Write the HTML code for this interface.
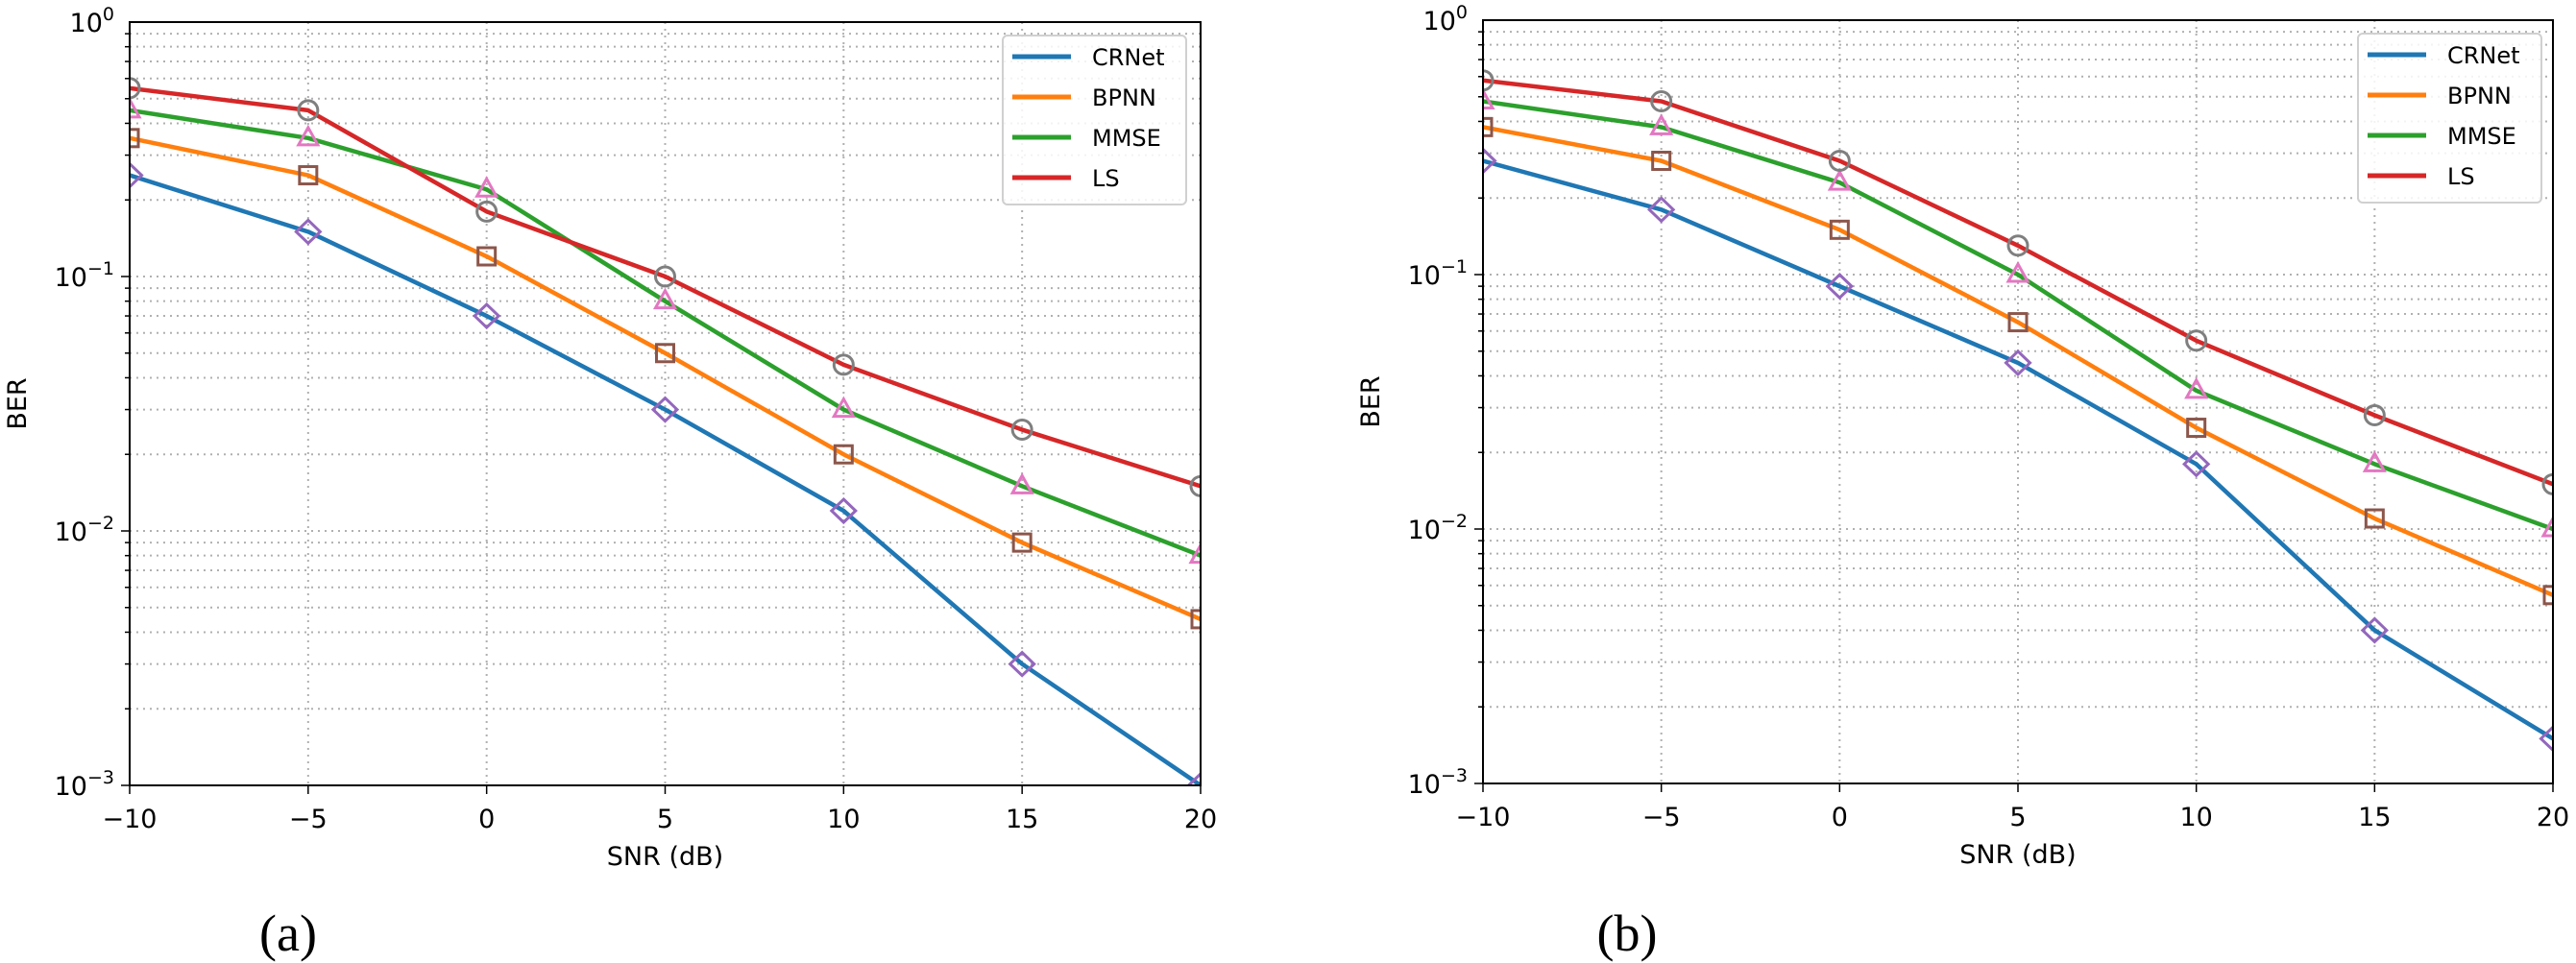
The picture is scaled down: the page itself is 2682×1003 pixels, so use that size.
<!DOCTYPE html>
<html><head><meta charset="utf-8"><style>
html,body{margin:0;padding:0;background:#fff;}
svg{display:block;}
text{font-family:"DejaVu Sans","Liberation Sans",sans-serif;fill:#000;}
</style></head><body>
<svg id="fig" width="2682" height="1003" viewBox="0 0 2682 1003" xmlns="http://www.w3.org/2000/svg"></svg>
<script>
const snr = [-10, -5, 0, 5, 10, 15, 20];
const seriesNames = ["CRNet", "BPNN", "MMSE", "LS"];
const xTicks = [-10, -5, 0, 5, 10, 15, 20];
const yTickExps = [0, -1, -2, -3];
const aCRNet = [0.25, 0.15, 0.07, 0.03, 0.012, 0.003, 0.001];
const aBPNN  = [0.35, 0.25, 0.12, 0.05, 0.02, 0.009, 0.0045];
const aMMSE  = [0.45, 0.35, 0.22, 0.08, 0.03, 0.015, 0.008];
const aLS    = [0.55, 0.45, 0.18, 0.10, 0.045, 0.025, 0.015];
const bCRNet = [0.28, 0.18, 0.09, 0.045, 0.018, 0.004, 0.0015];
const bBPNN  = [0.38, 0.28, 0.15, 0.065, 0.025, 0.011, 0.0055];
const bMMSE  = [0.48, 0.38, 0.23, 0.10, 0.035, 0.018, 0.010];
const bLS    = [0.58, 0.48, 0.28, 0.13, 0.055, 0.028, 0.015];

const NS = "http://www.w3.org/2000/svg";
const svg = document.getElementById("fig");
const colors = ["#1f77b4", "#ff7f0e", "#2ca02c", "#d62728"];
const mcolors = ["#9467bd", "#8c564b", "#e377c2", "#7f7f7f"];
const markers = ["diamond", "square", "triangle", "circle"];
function mk(tag, attrs, parent) {
  const e = document.createElementNS(NS, tag);
  for (const k in attrs) e.setAttribute(k, attrs[k]);
  (parent || svg).appendChild(e);
  return e;
}

function drawPanel(id, L, R, T, B, data, label, labelX, legX, legY) {
  const g = mk("g", {});
  
  
  const xs = v => L + (v - (-10)) / 30 * (R - L);
  const ys = v => T + (0 - Math.log10(v)) / 3 * (B - T);
  for (let e = 0; e > -3; e--) {
    for (let m = 1; m <= 9; m++) {
      const v = m * Math.pow(10, e - 1);
      const y = ys(v);
      const ln = mk("line", {x1: L, x2: R, y1: y, y2: y, stroke: "#b0b0b0", "stroke-width": 2, "stroke-dasharray": "2,5"}, g);
      
      
      const tk = mk("line", {x1: L - (m === 1 ? 9 : 5), x2: L, y1: y, y2: y, stroke: "#000", "stroke-width": 1.5}, g);
      
      
    }
  }
  xTicks.forEach(t => {
    const x = xs(t);
    const ln = mk("line", {x1: x, x2: x, y1: T, y2: B, stroke: "#b0b0b0", "stroke-width": 2, "stroke-dasharray": "2,5"}, g);
    
    
    const tk = mk("line", {x1: x, x2: x, y1: B, y2: B + 9, stroke: "#000", "stroke-width": 1.5}, g);
    
    
    const tx = mk("text", {x: x, y: B + 44, "text-anchor": "middle", "font-size": 27}, g);
    tx.textContent = t < 0 ? "\u2212" + Math.abs(t) : String(t);
    
    
  });
  yTickExps.forEach(e => {
    const y = ys(Math.pow(10, e));
    const tx = mk("text", {x: L - 16, y: y + 10, "text-anchor": "end", "font-size": 27}, g);
    
    
    tx.innerHTML = '10<tspan dy="-12" font-size="19">' + (e < 0 ? "\u2212" + Math.abs(e) : e) + '</tspan>';
  });
  const cp = mk("clipPath", {id: "clip" + id}, g);
  mk("rect", {x: L, y: T, width: R - L, height: B - T}, cp);
  const plot = mk("g", {"clip-path": "url(#clip" + id + ")"}, g);
  data.forEach((vals, si) => {
    const pts = vals.map((v, i) => xs(snr[i]) + "," + ys(v)).join(" ");
    const pl = mk("polyline", {points: pts, fill: "none", stroke: colors[si], "stroke-width": 4.5, "stroke-linejoin": "round"}, plot);
    
    
  });
  data.forEach((vals, si) => {
    vals.forEach((v, i) => {
      const x = xs(snr[i]), y = ys(v);
      let m;
      const st = {fill: "none", stroke: mcolors[si], "stroke-width": 3};
      if (markers[si] === "circle") m = mk("circle", Object.assign({cx: x, cy: y, r: 10}, st), plot);
      else if (markers[si] === "square") m = mk("rect", Object.assign({x: x - 9, y: y - 9, width: 18, height: 18}, st), plot);
      else if (markers[si] === "triangle") m = mk("polygon", Object.assign({points: `${x},${y-11} ${x+10},${y+7} ${x-10},${y+7}`}, st), plot);
      else m = mk("polygon", Object.assign({points: `${x},${y-12} ${x+12.5},${y} ${x},${y+12} ${x-12.5},${y}`}, st), plot);
      
      
    });
  });
  const fr = mk("rect", {x: L, y: T, width: R - L, height: B - T, fill: "none", stroke: "#000", "stroke-width": 2}, g);
  
  
  const xl = mk("text", {x: (L + R) / 2, y: B + 83, "text-anchor": "middle", "font-size": 27}, g);
  xl.textContent = "SNR (dB)";
  
  
  const yl = mk("text", {x: 0, y: 0, "text-anchor": "middle", "font-size": 27, transform: `translate(${L - 108},${(T + B) / 2}) rotate(-90)`}, g);
  yl.textContent = "BER";
  
  
  const lg = mk("g", {}, g);
  
  
  const lb = mk("rect", {x: legX, y: legY, width: 191, height: 176, rx: 5, fill: "#fff", "fill-opacity": 0.85, stroke: "#d0d0d0", "stroke-width": 2}, lg);
  
  
  seriesNames.forEach((n, i) => {
    const y = legY + 22 + i * 42;
    const ll = mk("line", {x1: legX + 10, x2: legX + 71, y1: y, y2: y, stroke: colors[i], "stroke-width": 5}, lg);
    
    
    const lt = mk("text", {x: legX + 93, y: y + 9, "font-size": 24}, lg);
    lt.textContent = n;
    
    
  });
  const pl = mk("text", {x: labelX, y: 990, "text-anchor": "middle", "font-size": 54, style: "font-family:'Liberation Serif',serif"}, g);
  pl.textContent = label;
  
  
}
drawPanel("a", 135, 1250, 23, 818, [aCRNet, aBPNN, aMMSE, aLS], "(a)", 300, 1044, 37);
drawPanel("b", 1544, 2658, 21, 816, [bCRNet, bBPNN, bMMSE, bLS], "(b)", 1694, 2455, 35);
</script>
</body></html>
